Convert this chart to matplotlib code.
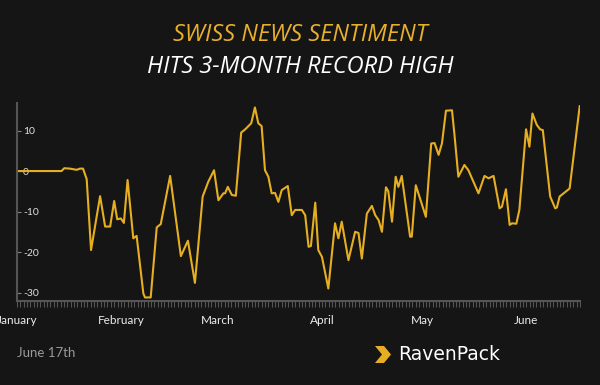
import datetime as dt
import matplotlib
matplotlib.use("Agg")
import matplotlib.pyplot as plt
import matplotlib.dates as mdates
from matplotlib.patches import Polygon

plt.rcParams['axes.unicode_minus'] = False

# days since 1 Jan 2016, sentiment value
day = [0, 13.3, 14.1, 15.8, 17.8, 18.8, 19.7, 20.8, 22.1, 24.8,
       26.3, 27.8, 29.0, 29.9, 31.0, 31.9, 33.0, 34.7, 35.7, 37.7,
       38.2, 39.9, 41.7, 42.9, 45.7, 48.9, 51.0, 53.1, 55.4, 57.1,
       58.8, 60.1, 61.6, 62.1, 62.9, 64.1, 65.3, 66.9, 68.1, 69.9,
       71.0, 72.0, 73.0, 74.0, 75.0, 76.0, 77.0, 78.0, 79.0, 80.8,
       82.0, 83.0, 85.0, 86.0, 87.0, 87.7, 89.0, 89.9, 91.0, 92.9,
       94.9, 95.9, 96.9, 98.9, 100.9, 101.9, 102.9, 104.4, 105.9, 106.9,
       107.9, 108.9, 110.1, 110.8, 111.9, 113.0, 113.8, 114.8, 117.3, 117.8,
       119.0, 122.0, 123.6, 124.6, 125.8, 126.8, 128.0, 129.8, 130.5, 131.7,
       133.5, 134.7, 137.7, 139.5, 140.7, 142.2, 144.0, 144.7, 145.9, 147.0,
       147.7, 149.0, 149.9, 151.9, 152.9, 153.8, 155.1, 156.1, 156.9, 158.1,
       159.1, 160.6, 161.1, 161.9, 163.1, 164.9, 167.9]
sentiment = [0, 0, 0.7, 0.6, 0.3, 0.6, 0.6, -2, -19.5, -6.2,
             -13.7, -13.7, -7.4, -11.9, -11.7, -12.8, -2.2, -16.6, -16, -30.2,
             -31.2, -31.2, -13.9, -13.1, -1.2, -21, -17.2, -27.6, -6.3, -2.6,
             0.2, -7.2, -5.5, -5.5, -3.9, -5.9, -6.1, 9.5, 10.3, 11.8,
             15.7, 11.8, 11.1, 0.2, -1.4, -5.5, -5.4, -7.6, -4.7, -3.7,
             -10.9, -9.6, -9.6, -10.9, -18.7, -18.5, -7.8, -19.5, -21.2, -29,
             -12.9, -16.6, -12.5, -22, -15, -15.3, -21.6, -10.5, -8.6, -10.9,
             -12.1, -15, -4, -5, -12.5, -1.4, -3.9, -1.2, -16.2, -16.2,
             -3.5, -11.3, 6.8, 6.9, 4.0, 6.8, 14.9, 15, 9.3, -1.4,
             1.5, 0.2, -5.5, -1.2, -1.8, -1.2, -9.2, -8.8, -4.5, -13.3,
             -12.9, -13, -9.6, 10.3, 6, 14.2, 11.4, 10.3, 10.1, 1.1,
             -6.3, -9.2, -9.0, -6.3, -5.5, -4.3, 16]
yticks = [-30, -20, -10, 0, 10]

start = dt.datetime(2016, 1, 1)
dates = [start + dt.timedelta(days=d) for d in day]

bg = '#151515'
gold = '#e6af22'

fig = plt.figure(figsize=(6, 3.85), dpi=100, facecolor=bg)
ax = fig.add_axes([0.0283, 0.219, 0.9384, 0.5135])
ax.set_facecolor(bg)

ax.plot(dates, sentiment, color=gold, lw=1.5, solid_joinstyle='round')

ax.set_xlim(start, start + dt.timedelta(days=168))
ax.set_ylim(-32, 16.8)

ax.xaxis.set_major_locator(mdates.MonthLocator())
ax.xaxis.set_major_formatter(mdates.DateFormatter('%B'))
ax.xaxis.set_minor_locator(mdates.DayLocator())
ax.tick_params(axis='x', which='both', color='#555555', length=4, width=0.8,
               labelcolor='#ececec', labelsize=8.5, pad=6)

ax.set_yticks(yticks)
ax.tick_params(axis='y', direction='in', color='#888888', length=3, width=0.8,
               labelcolor='#e0e0e0', labelsize=7.5, pad=-4.5)
for lab in ax.get_yticklabels():
    lab.set_horizontalalignment('left')
    lab.set_fontfamily('Lato')
for lab in ax.get_xticklabels():
    lab.set_fontfamily('Lato')

for side in ['top', 'right']:
    ax.spines[side].set_visible(False)
ax.spines['left'].set_color('#555555')
ax.spines['left'].set_linewidth(1.5)
ax.spines['bottom'].set_color('#555555')
ax.spines['bottom'].set_linewidth(1.5)

fig.text(0.5, 1 - 35 / 385, 'SWISS NEWS SENTIMENT', color='#e8b02c',
         fontsize=17, fontstyle='italic', family='Open Sans',
         ha='center', va='center')
fig.text(0.5, 1 - 67 / 385, 'HITS 3-MONTH RECORD HIGH', color='white',
         fontsize=17, fontstyle='italic', family='Open Sans',
         ha='center', va='center')

fig.text(17 / 600, 1 - 353 / 385, 'June 17th', color='#9a9a9a',
         fontsize=9.5, family='Lato', ha='left', va='center')

# logo
chev = [(375, 346), (384, 346), (391, 354.5), (384, 363), (375, 363), (382, 354.5)]
fig.add_artist(Polygon([(x / 600, 1 - y / 385) for x, y in chev], closed=True,
                       transform=fig.transFigure, color=gold, lw=0))
fig.text(398 / 600, 1 - 355 / 385, 'RavenPack', color='white',
         fontsize=13.5, family='DejaVu Sans', ha='left', va='center')

fig.savefig('out.png', dpi=100, facecolor=bg)
